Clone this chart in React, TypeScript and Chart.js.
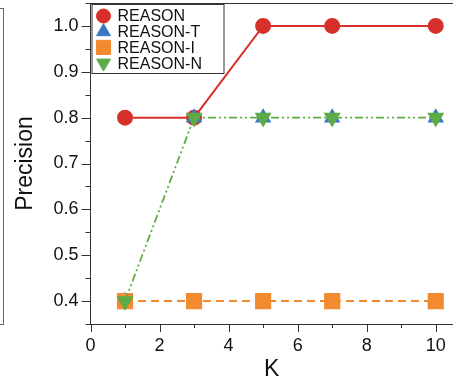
import React, { useEffect, useRef } from "react";
import { Chart, registerables } from "chart.js";
import { drawPoint } from "chart.js/helpers";

Chart.register(...registerables);

// ---- data ----
const kValues = [1, 3, 5, 7, 10];
const reason = [0.8, 0.8, 1.0, 1.0, 1.0];
const reasonT = [0.4, 0.8, 0.8, 0.8, 0.8];
const reasonI = [0.4, 0.4, 0.4, 0.4, 0.4];
const reasonN = [0.4, 0.8, 0.8, 0.8, 0.8];
const seriesLabels = ["REASON", "REASON-T", "REASON-I", "REASON-N"];
const xAxisTitle = "K";
const yAxisTitle = "Precision";

const FONT = "'Liberation Sans', Arial, Helvetica, sans-serif";
const AXIS = "#333333";
const RED = "#d7302a";
const BLUE = "#3b77c2";
const ORANGE = "#f28a30";
const GREEN = "#5dab47";

const toXY = (vals: number[]) => vals.map((v, i) => ({ x: kValues[i], y: v }));

const framePlugin = {
  id: "frame",
  afterDraw(chart: any) {
    const { ctx, chartArea: a, scales } = chart;
    ctx.save();
    ctx.strokeStyle = AXIS;
    ctx.lineWidth = 1;
    const line = (x1: number, y1: number, x2: number, y2: number) => {
      ctx.beginPath();
      ctx.moveTo(x1, y1);
      ctx.lineTo(x2, y2);
      ctx.stroke();
    };
    // top frame line
    line(a.left, a.top + 0.5, a.right, a.top + 0.5);
    // x ticks
    for (const t of scales.x.ticks) {
      const px = Math.round(scales.x.getPixelForValue(t.value)) + 0.5;
      const len = t.label !== "" ? 8 : 4;
      line(px, a.bottom, px, a.bottom + len);
    }
    // y ticks
    for (const t of scales.y.ticks) {
      const py = Math.round(scales.y.getPixelForValue(t.value)) + 0.5;
      const len = t.label !== "" ? 9 : 5;
      line(a.left, py, a.left - len, py);
    }
    // neighbouring panel frame edge at far left
    ctx.strokeStyle = "#666666";
    line(3.5, 8, 3.5, a.bottom + 1);
    line(0, 8.5, 3.5, 8.5);
    line(0, a.bottom + 0.5, 3.5, a.bottom + 0.5);

    // legend box
    const lx = a.left + 1;
    const ly = a.top + 1;
    const lw = 132;
    const lh = 69;
    ctx.fillStyle = "#ffffff";
    ctx.fillRect(lx, ly, lw, lh);
    ctx.strokeStyle = AXIS;
    ctx.strokeRect(lx + 0.5, ly + 0.5, lw, lh);
    ctx.font = `16px ${FONT}`;
    ctx.textBaseline = "middle";
    ctx.textAlign = "left";
    chart.data.datasets.forEach((ds: any, i: number) => {
      const cy = ly + 12 + i * 15.7;
      const cx = lx + 12;
      ctx.fillStyle = ds.pointBackgroundColor;
      ctx.strokeStyle = ds.pointBorderColor;
      drawPoint(
        ctx,
        {
          pointStyle: ds.pointStyle,
          radius: ds.pointRadius,
          rotation: ds.pointRotation || 0,
          borderWidth: 1,
        } as any,
        cx,
        cy
      );
      ctx.fillStyle = "#111111";
      ctx.fillText(ds.label, lx + 26, cy + 1);
    });
    ctx.restore();
  },
};

export default function App() {
  const ref = useRef<HTMLCanvasElement | null>(null);

  useEffect(() => {
    if (!ref.current) return;
    const chart = new Chart(ref.current, {
      type: "line",
      data: {
        datasets: [
          {
            label: seriesLabels[0],
            data: toXY(reason),
            borderColor: RED,
            backgroundColor: RED,
            pointBackgroundColor: RED,
            pointBorderColor: RED,
            pointStyle: "circle",
            pointRadius: 7,
            borderWidth: 2,
            order: 4,
          },
          {
            label: seriesLabels[1],
            data: toXY(reasonT),
            borderColor: BLUE,
            backgroundColor: BLUE,
            pointBackgroundColor: BLUE,
            pointBorderColor: BLUE,
            pointStyle: "triangle",
            pointRadius: 8,
            borderWidth: 1.5,
            showLine: false,
            order: 3,
          },
          {
            label: seriesLabels[2],
            data: toXY(reasonI),
            borderColor: ORANGE,
            backgroundColor: ORANGE,
            pointBackgroundColor: ORANGE,
            pointBorderColor: ORANGE,
            pointStyle: "rect",
            pointRadius: 10,
            borderWidth: 2,
            borderDash: [8, 5],
            order: 2,
          },
          {
            label: seriesLabels[3],
            data: toXY(reasonN),
            borderColor: GREEN,
            backgroundColor: GREEN,
            pointBackgroundColor: GREEN,
            pointBorderColor: GREEN,
            pointStyle: "triangle",
            pointRotation: 180,
            pointRadius: 8,
            borderWidth: 1.8,
            borderDash: [8, 3, 2, 3, 2, 3],
            order: 1,
          },
        ] as any,
      },
      options: {
        animation: false,
        responsive: false,
        maintainAspectRatio: false,
        layout: { autoPadding: false, padding: { top: 3, right: 0, bottom: 0, left: 0 } },
        plugins: {
          legend: { display: false },
          tooltip: { enabled: false },
        },
        scales: {
          x: {
            type: "linear",
            bounds: "data",
            min: 0,
            max: 10.5,
            grid: { display: true, drawOnChartArea: false, drawTicks: false },
            border: { display: true, color: AXIS, width: 1 },
            ticks: {
              stepSize: 1,
              includeBounds: false,
              autoSkip: false,
              maxRotation: 0,
              padding: 11,
              color: "#111111",
              font: { family: FONT, size: 18 },
              callback: (v: any) => (Number(v) % 2 === 0 ? String(v) : ""),
            },
            title: {
              display: true,
              text: xAxisTitle,
              color: "#111111",
              font: { family: FONT, size: 23, lineHeight: 1 },
              padding: { top: 0, bottom: 0 },
            },
            afterFit: (scale: any) => {
              scale.height = 57;
              scale.paddingLeft = 0;
              scale.paddingRight = 0;
              scale.paddingTop = 0;
              scale.paddingBottom = 0;
            },
          },
          y: {
            type: "linear",
            bounds: "data",
            min: 0.35,
            max: 1.05,
            grid: { display: true, drawOnChartArea: false, drawTicks: false },
            border: { display: true, color: AXIS, width: 1 },
            ticks: {
              stepSize: 0.05,
              autoSkip: false,
              padding: 12,
              color: "#111111",
              font: { family: FONT, size: 18 },
              callback: (v: any) => {
                const r = Math.round(Number(v) * 100);
                return r % 10 === 0 ? (r / 100).toFixed(1) : "";
              },
            },
            title: {
              display: true,
              text: yAxisTitle,
              color: "#111111",
              font: { family: FONT, size: 23, lineHeight: 1 },
              padding: { top: 14.5, bottom: 0 },
            },
            afterFit: (scale: any) => {
              scale.width = 90.5;
              scale.paddingLeft = 0;
              scale.paddingRight = 0;
              scale.paddingTop = 0;
              scale.paddingBottom = 0;
            },
          },
        },
      },
      plugins: [framePlugin],
    });
    return () => chart.destroy();
  }, []);

  return (
    <div style={{ position: "absolute", left: 0, top: 0, width: 453, height: 381 }}>
      <canvas ref={ref} width={453} height={381} style={{ width: 453, height: 381 }} />
    </div>
  );
}
